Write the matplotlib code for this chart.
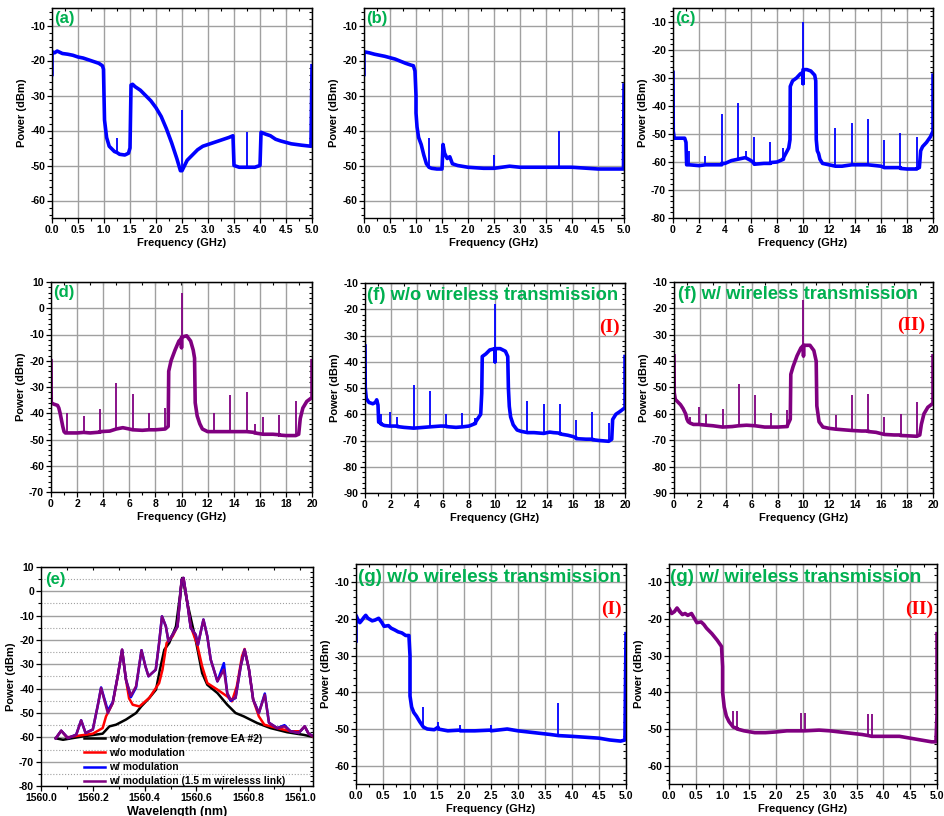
"""
Nine-panel RF / optical spectrum figure
"""

#---------------------------------------------------------------------------------------------------
# Import Modules
#---------------------------------------------------------------------------------------------------

import numpy as np
import matplotlib
matplotlib.use('Agg')
import matplotlib.pyplot as plt
from matplotlib.ticker import AutoMinorLocator, MultipleLocator

plt.rcParams['font.family'] = ['Liberation Sans', 'DejaVu Sans']
plt.rcParams['font.weight'] = 'bold'

#---------------------------------------------------------------------------------------------------
# Data (frequency in GHz, power in dBm). Spikes are three points at one x.
#---------------------------------------------------------------------------------------------------

trace_a = [(0.0, -24), (0.0, -17.5), (0.05, -17.8), (0.1, -17.3), (0.2, -18), (0.3, -18.2),
           (0.4, -18.5), (0.5, -19), (0.6, -19.3), (0.7, -19.8), (0.8, -20.3), (0.9, -20.8),
           (0.97, -21.5), (0.99, -22.5), (1.0, -30), (1.01, -37), (1.05, -42), (1.1, -44.5),
           (1.2, -46), (1.25, -46.3), (1.25, -42), (1.25, -46.3), (1.3, -46.8), (1.4, -47),
           (1.47, -46.5), (1.5, -45), (1.52, -27), (1.55, -26.8), (1.6, -27.5), (1.7, -28.5),
           (1.8, -30), (1.9, -31.5), (2.0, -33.5), (2.1, -36), (2.2, -39.5), (2.3, -43.5),
           (2.4, -48), (2.47, -51.5), (2.5, -51), (2.5, -34), (2.5, -51.5), (2.55, -50),
           (2.6, -48.5), (2.7, -47), (2.8, -45.5), (2.9, -44.5), (3.0, -44), (3.2, -43),
           (3.4, -42), (3.48, -41.5), (3.5, -50), (3.6, -50.5), (3.75, -50.5), (3.75, -40.5),
           (3.75, -50.5), (3.9, -50.5), (4.0, -50), (4.02, -40.5), (4.1, -41), (4.2, -41.5),
           (4.3, -42.5), (4.4, -43), (4.6, -43.8), (4.8, -44.2), (4.98, -44.5), (5.0, -21.5)]

trace_b = [(0.0, -24), (0.0, -17.5), (0.1, -17.8), (0.2, -18.2), (0.3, -18.5), (0.4, -18.8),
           (0.5, -19.2), (0.6, -19.6), (0.7, -20.2), (0.8, -20.8), (0.9, -21.3), (0.95, -21.5),
           (0.98, -23), (1.0, -30), (1.0, -35), (1.02, -39), (1.05, -42), (1.1, -44),
           (1.15, -47), (1.2, -49.5), (1.25, -50.5), (1.25, -42), (1.25, -50.5), (1.3, -50.8),
           (1.4, -51), (1.5, -51), (1.52, -44), (1.55, -46.5), (1.6, -48), (1.65, -47.5),
           (1.7, -49.5), (1.8, -50), (2.0, -50.5), (2.3, -50.8), (2.5, -50.8), (2.5, -47),
           (2.5, -50.8), (2.8, -50.2), (3.0, -50.5), (3.5, -50.5), (3.75, -50.5), (3.75, -40),
           (3.75, -50.5), (4.0, -50.5), (4.5, -51), (4.8, -51), (4.99, -51), (5.0, -27)]

trace_c = [(0.0, -28), (0.02, -49), (0.1, -51.5), (0.5, -51.5), (0.9, -51.5), (1.0, -53),
           (1.05, -61), (1.25, -61), (1.25, -56), (1.25, -61), (2.0, -61.3), (2.5, -61),
           (2.5, -58), (2.5, -61), (3.0, -61), (3.75, -61), (3.75, -43), (3.75, -60.5),
           (4.0, -60.5), (4.5, -59.5), (5.0, -59), (5.0, -39), (5.0, -59), (5.5, -58.5),
           (5.6, -58.5), (5.6, -56), (5.6, -58.5), (6.0, -59.5), (6.25, -60.5), (6.25, -51),
           (6.25, -60.8), (7.0, -60.5), (7.5, -60.5), (7.5, -53), (7.5, -60.2), (8.0, -60),
           (8.5, -59), (8.5, -55), (8.5, -58.5), (8.9, -55), (9.0, -52), (9.02, -33), (9.2, -31),
           (9.5, -30), (9.8, -28.5), (10.0, -28), (10.0, -32), (10.0, -10), (10.0, -27),
           (10.3, -27), (10.6, -27.5), (10.9, -29), (10.98, -31), (11.02, -52), (11.1, -56),
           (11.2, -57), (11.3, -59), (11.5, -60.5), (12.0, -61), (12.5, -61.5), (12.5, -48),
           (12.5, -61.5), (13.0, -61.5), (13.75, -61), (13.75, -46), (13.75, -61), (14.5, -61),
           (15.0, -61), (15.0, -44.5), (15.0, -61), (16.0, -61.5), (16.25, -62), (16.25, -52),
           (16.25, -62), (17.0, -62), (17.5, -62), (17.5, -49.5), (17.5, -62.3), (18.0, -62.5),
           (18.75, -62.5), (18.75, -51), (18.75, -62.3), (18.95, -62), (19.05, -56), (19.2, -54.5),
           (19.5, -53), (19.8, -51), (20.0, -49), (20.0, -29)]

trace_d = [(0.0, -20), (0.02, -36), (0.2, -36.5), (0.5, -37), (0.6, -38), (0.7, -40), (0.8, -42.5),
           (0.9, -45), (1.0, -47), (1.1, -47.5), (1.25, -47.5), (1.25, -40), (1.25, -47.5),
           (2.0, -47.5), (2.5, -47.3), (2.5, -41), (2.5, -47.3), (3.0, -47.5), (3.75, -47.2),
           (3.75, -38.5), (3.75, -47), (4.5, -46.8), (5.0, -46), (5.0, -28.5), (5.0, -46),
           (5.5, -45.5), (6.0, -46), (6.25, -46.3), (6.25, -32.5), (6.25, -46.3), (7.0, -46.5),
           (7.5, -46.3), (7.5, -40), (7.5, -46.3), (8.0, -46.3), (8.75, -46), (8.75, -38),
           (8.75, -46), (8.98, -45), (9.02, -24), (9.2, -20), (9.5, -16), (9.8, -12.5),
           (10.0, -11.5), (10.0, -15), (10.0, 6), (10.0, -11), (10.4, -10.5), (10.7, -12.5),
           (10.9, -16), (11.0, -19), (11.05, -36), (11.2, -41), (11.4, -44), (11.6, -46),
           (12.0, -47), (12.5, -47), (12.5, -40), (12.5, -47), (13.0, -47), (13.75, -47),
           (13.75, -33), (13.75, -47), (14.5, -47), (15.0, -47), (15.0, -32), (15.0, -47),
           (15.6, -47.3), (15.6, -44), (15.6, -47.5), (16.0, -47.8), (16.25, -48), (16.25, -41.3),
           (16.25, -48), (17.0, -48), (17.5, -48.2), (17.5, -40.5), (17.5, -48.3), (18.0, -48.5),
           (18.75, -48.5), (18.75, -35.5), (18.75, -48.5), (18.98, -48), (19.1, -42), (19.3, -38),
           (19.6, -35.5), (20.0, -34), (20.0, -20)]

trace_f1 = [(0.0, -34), (0.02, -50), (0.1, -54), (0.3, -55.5), (0.6, -56), (0.8, -55.5),
            (0.9, -54.5), (1.0, -56.5), (1.05, -63), (1.25, -63.5), (1.25, -60), (1.25, -63.8),
            (1.5, -64.3), (1.9, -64.5), (1.9, -59), (1.9, -64.5), (2.5, -64.5), (2.5, -61),
            (2.5, -64.7), (3.0, -65), (3.75, -65.3), (3.75, -49), (3.75, -65.3), (4.5, -65),
            (5.0, -64.8), (5.0, -51), (5.0, -64.8), (5.8, -64.5), (6.25, -64.5), (6.25, -60),
            (6.25, -64.7), (7.0, -65), (7.5, -64.8), (7.5, -59.5), (7.5, -64.8), (8.0, -64.5),
            (8.5, -63.5), (8.5, -61.5), (8.5, -63), (8.9, -60), (8.98, -52), (9.02, -38),
            (9.3, -37), (9.6, -35.5), (10.0, -35), (10.0, -40), (10.0, -18), (10.0, -35),
            (10.4, -35), (10.8, -36), (10.98, -38), (11.03, -50), (11.1, -57), (11.2, -61),
            (11.4, -64), (11.7, -66), (12.0, -66.5), (12.5, -67), (12.5, -55), (12.5, -67),
            (13.0, -67), (13.75, -67.3), (13.75, -56), (13.75, -67.3), (14.2, -66.8), (14.5, -67),
            (15.0, -67.2), (15.0, -56), (15.0, -67.5), (15.6, -68), (16.0, -68.5), (16.25, -69),
            (16.25, -62), (16.25, -69.3), (17.0, -69.5), (17.5, -69.5), (17.5, -59), (17.5, -69.7),
            (18.0, -70), (18.75, -70.3), (18.75, -63.5), (18.75, -70.3), (18.98, -69.5),
            (19.05, -62), (19.3, -60), (19.6, -59), (20.0, -57.5), (20.0, -38)]

trace_f2 = [(0.0, -38), (0.02, -52), (0.1, -54.5), (0.3, -55.5), (0.5, -56.5), (0.7, -58),
            (0.9, -60), (1.0, -62), (1.1, -63), (1.25, -63.5), (1.25, -61), (1.25, -63.5),
            (1.5, -64), (1.9, -64), (1.9, -57.5), (1.9, -64), (2.5, -64.3), (2.5, -60),
            (2.5, -64.3), (3.0, -64.5), (3.75, -65), (3.75, -58), (3.75, -65), (4.5, -64.8),
            (5.0, -64.5), (5.0, -48.5), (5.0, -64.5), (5.6, -64.3), (6.25, -64.5), (6.25, -53),
            (6.25, -64.5), (7.0, -65), (7.5, -65), (7.5, -59.5), (7.5, -65), (8.0, -65),
            (8.75, -64.8), (8.75, -58.5), (8.75, -64.5), (8.98, -62), (9.02, -45), (9.2, -42),
            (9.5, -38), (9.8, -35), (10.0, -34), (10.0, -38), (10.0, -17), (10.0, -34),
            (10.5, -34), (10.8, -36), (10.98, -40), (11.03, -57), (11.2, -63), (11.5, -65),
            (12.0, -65.5), (12.5, -65.8), (12.5, -60.5), (12.5, -65.8), (13.0, -66),
            (13.75, -66.3), (13.75, -53), (13.75, -66.3), (14.5, -66.5), (15.0, -66.5),
            (15.0, -52.5), (15.0, -66.7), (15.6, -67), (16.0, -67.5), (16.25, -67.8),
            (16.25, -61), (16.25, -67.8), (17.0, -68), (17.5, -68), (17.5, -60), (17.5, -68.2),
            (18.0, -68.3), (18.75, -68.5), (18.75, -55.5), (18.75, -68.5), (18.98, -68),
            (19.1, -64), (19.3, -60), (19.6, -57.5), (20.0, -56), (20.0, -38)]

trace_g1 = [(0.0, -26), (0.0, -19), (0.03, -20), (0.07, -21), (0.1, -20.5), (0.15, -19.5),
            (0.18, -19), (0.22, -19.8), (0.3, -20.5), (0.35, -20.3), (0.42, -19.8), (0.48, -21),
            (0.52, -22), (0.6, -21.8), (0.65, -22.5), (0.72, -23), (0.78, -23.5), (0.85, -23.8),
            (0.92, -24.5), (0.98, -24.5), (1.0, -30), (1.0, -41), (1.03, -44), (1.07, -45.5),
            (1.12, -46.5), (1.18, -48), (1.25, -49.5), (1.25, -44), (1.25, -49.5), (1.32, -50),
            (1.45, -50.2), (1.52, -49.5), (1.52, -48), (1.52, -50), (1.7, -50.5), (1.93, -50.3),
            (1.93, -49), (1.93, -50.5), (2.2, -50.5), (2.5, -50.3), (2.5, -49), (2.5, -50.5),
            (2.8, -50), (3.0, -50.5), (3.3, -51), (3.6, -51.5), (3.75, -51.8), (3.75, -43),
            (3.75, -51.8), (4.0, -52), (4.3, -52.3), (4.5, -52.5), (4.7, -53), (4.9, -53.3),
            (4.98, -53), (5.0, -24)]

trace_g2 = [(0.0, -18), (0.0, -17), (0.05, -18.5), (0.1, -18), (0.15, -17), (0.2, -18),
            (0.25, -18.8), (0.3, -18.5), (0.35, -19), (0.42, -18.5), (0.48, -20), (0.52, -21),
            (0.6, -20.8), (0.65, -21.5), (0.7, -22.5), (0.8, -24), (0.9, -25.8), (0.98, -27.5),
            (1.0, -33), (1.0, -40), (1.03, -44), (1.07, -46.5), (1.12, -48), (1.2, -49.5),
            (1.2, -45), (1.2, -49.5), (1.27, -49.8), (1.27, -45), (1.27, -50), (1.4, -50.5),
            (1.6, -51), (1.8, -51), (2.0, -50.8), (2.2, -50.5), (2.47, -50.5), (2.47, -45.5),
            (2.47, -50.5), (2.53, -50.5), (2.53, -45.5), (2.53, -50.5), (2.8, -50.3), (3.0, -50.5),
            (3.3, -51), (3.6, -51.5), (3.72, -51.8), (3.72, -46), (3.72, -51.8), (3.78, -52),
            (3.78, -46), (3.78, -52), (4.0, -52), (4.3, -52), (4.5, -52.5), (4.7, -53),
            (4.9, -53.5), (4.98, -53.5), (5.0, -46), (5.0, -24)]

# Optical spectra for panel (e), wavelength in nm
spec_black = [(1560.057, -60.4), (1560.085, -61), (1560.162, -59.6), (1560.238, -58.5),
              (1560.264, -55.5), (1560.29, -54.8), (1560.328, -52.7), (1560.367, -50),
              (1560.387, -47.3), (1560.418, -43.8), (1560.444, -40.4), (1560.459, -32.2),
              (1560.476, -24), (1560.495, -21.2), (1560.521, -14.4), (1560.535, -3),
              (1560.545, 5.5), (1560.553, 2), (1560.565, -4.8), (1560.597, -19.9),
              (1560.622, -33.6), (1560.642, -38.4), (1560.681, -41.8), (1560.719, -46.6),
              (1560.751, -50), (1560.783, -51.4), (1560.834, -54.1), (1560.886, -56.2),
              (1560.95, -57.9), (1561.015, -59), (1561.053, -59.9)]

spec_red = [(1560.057, -60.4), (1560.078, -57.3), (1560.1, -60), (1560.2, -58.5), (1560.238, -56.2),
            (1560.251, -51.4), (1560.277, -45.9), (1560.296, -35), (1560.313, -24), (1560.328, -36.3),
            (1560.34, -44), (1560.354, -46.6), (1560.38, -47.3), (1560.418, -43.8), (1560.456, -37.7),
            (1560.469, -32.2), (1560.485, -21.2), (1560.508, -18.5), (1560.527, -14.4),
            (1560.543, 4.8), (1560.55, 5.5), (1560.565, -4.8), (1560.578, -14.4), (1560.603, -21.9),
            (1560.622, -30.8), (1560.642, -37.7), (1560.681, -40.4), (1560.719, -43.2),
            (1560.737, -45.2), (1560.756, -39), (1560.776, -26.7), (1560.786, -23.7),
            (1560.803, -32.2), (1560.819, -44.5), (1560.841, -51.4), (1560.862, -54.8),
            (1560.912, -56.2), (1560.963, -57.5), (1561.0, -57.5), (1561.018, -55.5),
            (1561.033, -58.5), (1561.053, -59.9)]

spec_blue = [(1560.057, -60.4), (1560.078, -57.3), (1560.104, -60.3), (1560.136, -58.9),
             (1560.155, -53), (1560.172, -58.2), (1560.2, -56.8), (1560.219, -47), (1560.232, -39.5),
             (1560.258, -49), (1560.277, -45.5), (1560.296, -35), (1560.313, -24), (1560.328, -36.3),
             (1560.347, -43.5), (1560.367, -39.5), (1560.388, -24.2), (1560.403, -30.8),
             (1560.415, -34.9), (1560.443, -32.2), (1560.456, -21.2), (1560.467, -10.3),
             (1560.482, -14.4), (1560.492, -20.5), (1560.508, -17.8), (1560.527, -14.4),
             (1560.543, 4.8), (1560.55, 5.5), (1560.565, -4.8), (1560.578, -15), (1560.597, -17.8),
             (1560.606, -21.9), (1560.627, -11.6), (1560.642, -18.5), (1560.655, -28),
             (1560.681, -37), (1560.706, -29.5), (1560.719, -42), (1560.732, -45),
             (1560.751, -43.8), (1560.771, -30.8), (1560.786, -24), (1560.803, -32.2),
             (1560.819, -44.5), (1560.841, -50), (1560.864, -42), (1560.88, -54), (1560.912, -56.2),
             (1560.94, -55), (1560.963, -57.5), (1560.995, -58.2), (1561.018, -55.5),
             (1561.033, -58.5), (1561.053, -59.6)]

spec_purple = [(1560.057, -60.4), (1560.078, -57.3), (1560.104, -60.3), (1560.136, -58.9),
               (1560.155, -53), (1560.172, -58.2), (1560.2, -56.8), (1560.219, -47),
               (1560.232, -39.7), (1560.258, -50), (1560.277, -45.9), (1560.296, -35),
               (1560.313, -24), (1560.328, -36.3), (1560.347, -42.9), (1560.367, -39),
               (1560.388, -24.2), (1560.403, -30.8), (1560.415, -34.9), (1560.443, -32.2),
               (1560.456, -21.2), (1560.467, -10.3), (1560.482, -14.4), (1560.492, -20.5),
               (1560.508, -17.8), (1560.527, -14.4), (1560.543, 4.8), (1560.55, 5.5),
               (1560.565, -4.8), (1560.578, -15), (1560.597, -17.8), (1560.606, -21.9),
               (1560.627, -11.6), (1560.642, -18.5), (1560.655, -28), (1560.681, -37),
               (1560.706, -32.2), (1560.719, -41.8), (1560.732, -44.5), (1560.751, -43.8),
               (1560.771, -30.8), (1560.786, -24), (1560.803, -32.2), (1560.819, -44.5),
               (1560.841, -50), (1560.864, -42.5), (1560.88, -54), (1560.912, -56.2),
               (1560.94, -55.5), (1560.963, -57.5), (1560.995, -58.2), (1561.018, -55.5),
               (1561.033, -58.5), (1561.053, -59.6)]

legend_e = ['w/o modulation (remove EA #2)', 'w/o modulation', 'w/ modulation',
            'w/ modulation (1.5 m wirelesss link)']

BLUE = '#0000ff'
PURPLE = '#800080'
GREEN = '#00b050'
GRID = '#a0a0a0'

#---------------------------------------------------------------------------------------------------
# Helpers
#---------------------------------------------------------------------------------------------------

W, H = 945, 816
fig = plt.figure(figsize=(W / 100, H / 100), dpi=100)


def make_axes(left, right, top, bottom):
    return fig.add_axes([left / W, 1 - bottom / H, (right - left) / W, (bottom - top) / H])


def style(ax, xlim, xstep, ylim, ystep, xlabel='Frequency (GHz)', xfmt='%.1f', vgrid=True):
    ax.set_xlim(xlim)
    ax.set_ylim(ylim)
    ax.xaxis.set_major_locator(MultipleLocator(xstep))
    ax.yaxis.set_major_locator(MultipleLocator(ystep))
    ax.xaxis.set_minor_locator(AutoMinorLocator(2))
    ax.yaxis.set_minor_locator(AutoMinorLocator(5))
    ax.xaxis.set_major_formatter(plt.FormatStrFormatter(xfmt))
    ax.yaxis.set_major_formatter(plt.FormatStrFormatter('%d'))
    ax.tick_params(which='both', direction='out', top=False, right=False, labelsize=7.5, pad=1.5)
    ax.tick_params(which='major', length=3.5, width=0.9)
    ax.tick_params(which='minor', length=2, width=0.8)
    sec_x = ax.secondary_xaxis('top')
    sec_y = ax.secondary_yaxis('right')
    sec_x.tick_params(which='both', direction='in', labeltop=False, length=2, width=0.8)
    sec_y.tick_params(which='both', direction='in', labelright=False, length=2, width=0.8)
    sec_x.xaxis.set_major_locator(MultipleLocator(xstep))
    sec_x.xaxis.set_minor_locator(AutoMinorLocator(2))
    sec_y.yaxis.set_major_locator(MultipleLocator(ystep))
    sec_y.yaxis.set_minor_locator(AutoMinorLocator(5))
    for sp in ax.spines.values():
        sp.set_linewidth(1.0)
    ax.set_axisbelow(True)
    if vgrid:
        ax.grid(True, which='major', color=GRID, lw=1.0)
    ax.set_ylabel('Power (dBm)', fontsize=8, fontweight='bold', labelpad=2)
    ax.set_xlabel(xlabel, fontsize=8, fontweight='bold', labelpad=2)


def draw(ax, trace, color):
    # the noisy floor is drawn thick, the narrow tones (three points at one x) thin
    x, y = zip(*trace)
    floor_x, floor_y, tone_x, tone_lo, tone_hi = [], [], [], [], []
    i = 0
    while i < len(x):
        if (i + 2 < len(x) and x[i] == x[i + 1] == x[i + 2]
                and y[i + 1] > y[i] and y[i + 1] > y[i + 2]):
            tone_x.append(x[i])
            tone_lo.append(min(y[i], y[i + 2]))
            tone_hi.append(y[i + 1])
            floor_x += [x[i], x[i + 2]]
            floor_y += [y[i], y[i + 2]]
            i += 3
        else:
            floor_x.append(x[i])
            floor_y.append(y[i])
            i += 1
    ax.plot(floor_x, floor_y, color=color, lw=2.6, solid_joinstyle='round')
    ax.vlines(tone_x, tone_lo, tone_hi, color=color, lw=1.3)


def title(ax, text, x=0.01, y=0.985, size=12):
    ax.text(x, y, text, transform=ax.transAxes, color=GREEN, fontsize=size, fontweight='bold',
            ha='left', va='top')


def roman(ax, text, x, y):
    ax.text(x, y, text, transform=ax.transAxes, color='red', fontsize=14, fontweight='bold',
            family=['Liberation Serif', 'DejaVu Serif'], ha='right', va='center')


#---------------------------------------------------------------------------------------------------
# Row 1
#---------------------------------------------------------------------------------------------------

ax = make_axes(52, 312, 8, 218)
draw(ax, trace_a, BLUE)
style(ax, (0, 5), 0.5, (-65, -5), 10)
title(ax, '(a)')

ax = make_axes(364, 624, 8, 218)
draw(ax, trace_b, BLUE)
style(ax, (0, 5), 0.5, (-65, -5), 10)
title(ax, '(b)')

ax = make_axes(673, 933, 8, 218)
draw(ax, trace_c, BLUE)
style(ax, (0, 20), 2, (-80, -5), 10, xfmt='%d')
title(ax, '(c)')

#---------------------------------------------------------------------------------------------------
# Row 2
#---------------------------------------------------------------------------------------------------

ax = make_axes(51, 312, 282, 492)
draw(ax, trace_d, PURPLE)
style(ax, (0, 20), 2, (-70, 10), 10, xfmt='%d')
title(ax, '(d)')

ax = make_axes(365, 625, 283, 493)
draw(ax, trace_f1, BLUE)
style(ax, (0, 20), 2, (-90, -10), 10, xfmt='%d')
title(ax, '(f) w/o wireless transmission', x=0.006, y=0.98, size=13.2)
roman(ax, '(I)', 0.98, 0.79)

ax = make_axes(674, 933, 282, 493)
draw(ax, trace_f2, PURPLE)
style(ax, (0, 20), 2, (-90, -10), 10, xfmt='%d')
title(ax, '(f) w/ wireless transmission', x=0.015, y=0.98, size=13.2)
roman(ax, '(II)', 0.97, 0.795)

#---------------------------------------------------------------------------------------------------
# Row 3
#---------------------------------------------------------------------------------------------------

ax = make_axes(41, 313, 567, 786)
for spec, color, name in zip([spec_black, spec_red, spec_blue, spec_purple],
                             ['black', 'red', BLUE, PURPLE], legend_e):
    x, y = zip(*spec)
    ax.plot(x, y, color=color, lw=1.8, label=name)
style(ax, (1560.0, 1561.05), 0.2, (-80, 10), 10, xlabel='Wavelength (nm)', vgrid=False)
ax.yaxis.set_minor_locator(AutoMinorLocator(2))
ax.grid(True, axis='y', which='major', color=GRID, lw=1.0)
ax.grid(True, axis='y', which='minor', color=GRID, lw=0.8, ls=':')
ax.xaxis.label.set_fontsize(9)
title(ax, '(e)', x=0.015, y=0.975)
ax.legend(loc='lower left', bbox_to_anchor=(0.13, -0.035), frameon=False,
          handlelength=2.1, handletextpad=0.4, labelspacing=0.42, borderaxespad=0.3,
          prop={'weight': 'bold', 'size': 7.4})

ax = make_axes(356, 626, 564, 784)
draw(ax, trace_g1, BLUE)
style(ax, (0, 5), 0.5, (-65, -5), 10)
title(ax, '(g) w/o wireless transmission', x=0.006, y=0.975, size=13.6)
roman(ax, '(I)', 0.985, 0.795)

ax = make_axes(669, 937, 564, 784)
draw(ax, trace_g2, PURPLE)
style(ax, (0, 5), 0.5, (-65, -5), 10)
title(ax, '(g) w/ wireless transmission', x=0.004, y=0.975, size=13.6)
roman(ax, '(II)', 0.985, 0.795)

fig.savefig('out.png', dpi=100)
